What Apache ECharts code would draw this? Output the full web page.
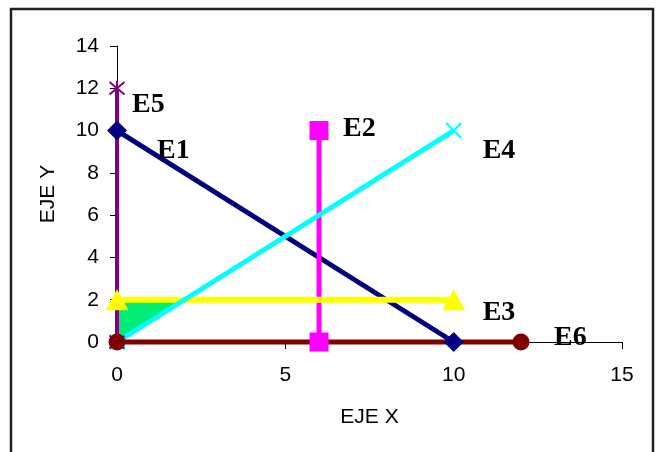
<!DOCTYPE html>
<html>
<head>
<meta charset="utf-8">
<script src="https://cdn.jsdelivr.net/npm/echarts@6/dist/echarts.min.js"></script>
<style>html,body{margin:0;padding:0;background:#fff}#c{width:656px;height:452px}</style>
</head>
<body>
<div id="c"></div>
<script>
// ---- data ----
const xTicks = [0, 5, 10, 15];
const yTicks = [0, 2, 4, 6, 8, 10, 12, 14];
const seriesNames = ['E1', 'E2', 'E3', 'E4', 'E5', 'E6'];
const E1 = [[0, 10], [10, 0]];
const E2 = [[6, 0], [6, 10]];
const E3 = [[0, 2], [10, 2]];
const E4 = [[0, 0], [10, 10]];
const E5 = [[0, 0], [0, 12]];
const E6 = [[0, 0], [12, 0]];
const feasibleRegion = [[0, 0], [0, 2], [2, 2]];

// ---- styles ----
const styles = {
  E1: { color: '#000080', width: 5, symbol: 'diamond', size: 20, labelIdx: 0, offset: [40, 20] },
  E2: { color: '#FF00FF', width: 5, symbol: 'rect', size: 19, labelIdx: 1, offset: [24, -2] },
  E3: { color: '#FFFF00', width: 6, symbol: 'triangle', size: [23, 21], labelIdx: 1, offset: [29, 13] },
  E4: { color: '#00FFFF', width: 5, symbol: 'path://M0,0L10,10M10,0L0,10', size: 15, stroke: true, labelIdx: 1, offset: [29, 20] },
  E5: { color: '#800080', width: 4, symbol: 'path://M0,0L10,10M10,0L0,10M5,-1L5,11', size: 15, stroke: true, labelIdx: 1, offset: [15, 16] },
  E6: { color: '#800000', width: 5, symbol: 'circle', size: 17, labelIdx: 1, offset: [33, -4] }
};
const dataMap = { E1, E2, E3, E4, E5, E6 };

const labelFont = { fontFamily: 'Liberation Serif', fontWeight: 'bold', fontSize: 28, color: '#000' };
const axisFont = { fontFamily: 'Liberation Sans', fontSize: 21, color: '#000' };

const lineSeries = seriesNames.map(name => {
  const st = styles[name];
  return {
    type: 'line',
    name: name,
    z: 3,
    data: dataMap[name].map((p, i) => i === st.labelIdx ? {
      value: p,
      label: Object.assign({
        show: true, position: 'inside', align: 'left', verticalAlign: 'middle',
        offset: st.offset, formatter: name
      }, labelFont)
    } : p),
    symbol: st.symbol,
    symbolSize: st.size,
    showSymbol: true,
    showAllSymbol: true,
    clip: false,
    animation: false,
    lineStyle: { color: st.color, width: st.width },
    itemStyle: st.stroke
      ? { color: st.color, borderColor: st.color, borderWidth: 2, opacity: 1 }
      : { color: st.color, borderWidth: 0, opacity: 1 },
    emphasis: { disabled: true }
  };
});

const regionSeries = {
  type: 'custom',
  z: 2,
  animation: false,
  data: [0],
  renderItem: function (params, api) {
    const pts = feasibleRegion.map(p => api.coord(p));
    return { type: 'polygon', shape: { points: pts }, style: { fill: '#00EE77', stroke: null } };
  }
};

const chart = echarts.init(document.getElementById('c'), null, { renderer: 'canvas' });
chart.setOption({
  backgroundColor: '#fff',
  animation: false,
  grid: { left: 117, right: 34, top: 46, bottom: 110 },
  xAxis: {
    type: 'value', min: xTicks[0], max: xTicks[xTicks.length - 1], interval: xTicks[1] - xTicks[0],
    name: 'EJE X', nameLocation: 'middle', nameGap: 65,
    nameTextStyle: axisFont,
    axisLine: { show: true, onZero: false, lineStyle: { color: '#000', width: 1 } },
    axisTick: { show: true, inside: false, length: 7, lineStyle: { color: '#000' } },
    axisLabel: Object.assign({ margin: 23 }, axisFont),
    splitLine: { show: false }
  },
  yAxis: {
    type: 'value', min: yTicks[0], max: yTicks[yTicks.length - 1], interval: yTicks[1] - yTicks[0],
    name: 'EJE Y', nameLocation: 'middle', nameGap: 58, nameRotate: 90,
    nameTextStyle: axisFont,
    axisLine: { show: true, onZero: false, lineStyle: { color: '#000', width: 1 } },
    axisTick: { show: true, inside: false, length: 7, lineStyle: { color: '#000' } },
    axisLabel: Object.assign({ margin: 18 }, axisFont),
    splitLine: { show: false }
  },
  graphic: [{
    type: 'rect', z: 100, silent: true,
    shape: { x: 11, y: 9, width: 642, height: 470 },
    style: { fill: null, stroke: '#222', lineWidth: 2.5 }
  }],
  series: [regionSeries].concat(lineSeries)
});
</script>
</body>
</html>
